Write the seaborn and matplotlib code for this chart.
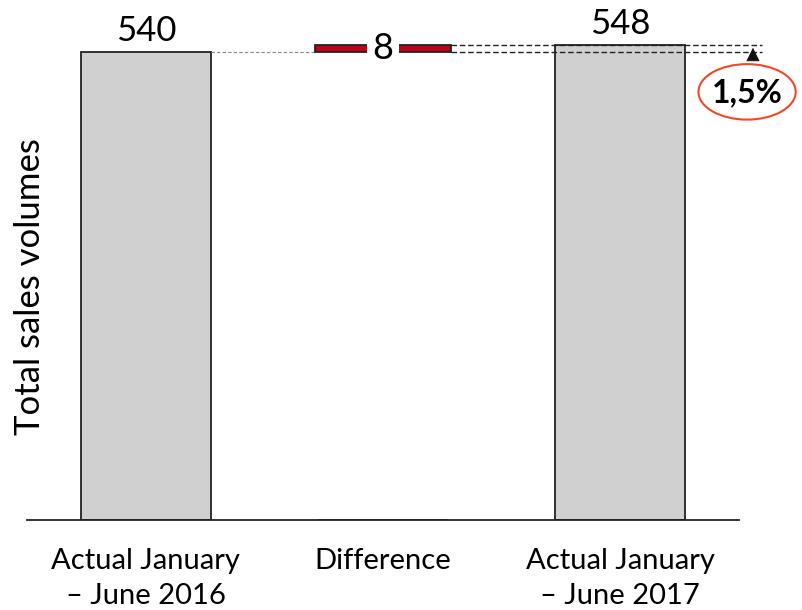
import seaborn as sns
import matplotlib.pyplot as plt
import pandas as pd
from matplotlib.patches import Ellipse

categories = ["Actual January\n– June 2016", "Difference", "Actual January\n– June 2017"]
totals = [540, 0, 548]
difference = 8
change_label = "1,5%"

sns.set_style("white")
plt.rcParams['font.family'] = ['Lato', 'DejaVu Sans']
plt.rcParams['text.color'] = 'black'
plt.rcParams['xtick.color'] = 'black'

df = pd.DataFrame({'category': categories, 'value': totals})

fig = plt.figure(figsize=(8.03, 6.10), dpi=100)
ax = fig.add_axes([0.034, 0.1475, 0.886, 0.8525])

sns.barplot(data=df, x='category', y='value', color='#d0d0d0', edgecolor='#222222',
            linewidth=1.3, width=0.55, saturation=1, ax=ax)

# the difference bar floats on top of the first total
start = totals[0]
end = totals[0] + difference
ax.bar(1, difference, bottom=start, width=0.57, color='#c00018', edgecolor='#222222',
       linewidth=1.3, zorder=3)
ax.text(1, (start + end) / 2, str(difference), ha='center', va='center', fontsize=26,
        bbox=dict(facecolor='white', edgecolor='none', pad=4), zorder=4)

# value labels on the totals
for i in [0, 2]:
    ax.text(i, totals[i] + 6, str(totals[i]), ha='center', va='bottom', fontsize=25)

# connector lines
ax.plot([0.275, 0.715], [start, start], lw=0.8, color='#888888', dashes=(3, 2),
        zorder=1, clip_on=False)
ax.plot([1.285, 2.6], [end, end], lw=1.0, color='#222222', dashes=(4, 2),
        zorder=1, clip_on=False)
ax.plot([1.285, 2.6], [start, start], lw=1.0, color='#222222', dashes=(4, 2),
        zorder=1, clip_on=False)

# arrow and percentage bubble
ax.annotate('', xy=(2.56, end), xytext=(2.56, start - 10),
            arrowprops=dict(arrowstyle='-|>', color='#111111', mutation_scale=22, lw=0.5),
            annotation_clip=False)
ax.add_patch(Ellipse((2.535, 494), 0.41, 64, facecolor='white', edgecolor='#f04828',
                     lw=1.5, clip_on=False, zorder=5))
ax.text(2.535, 493, change_label, ha='center', va='center', fontsize=23,
        fontweight='bold', zorder=6)

ax.set_xlim(-0.5, 2.5)
ax.set_ylim(0, 600)
ax.set_xlabel('')
ax.set_ylabel('')
ax.set_yticks([])
ax.tick_params(axis='x', length=0, labelsize=21, pad=20)
for lab in ax.get_xticklabels():
    lab.set_linespacing(1.45)
for s in ['left', 'right', 'top']:
    ax.spines[s].set_visible(False)
ax.spines['bottom'].set_color('#222222')
ax.spines['bottom'].set_linewidth(1.3)

fig.text(0.037, 0.53, 'Total sales volumes', rotation=90, ha='center', va='center', fontsize=25)

fig.savefig('out.png', dpi=100)
